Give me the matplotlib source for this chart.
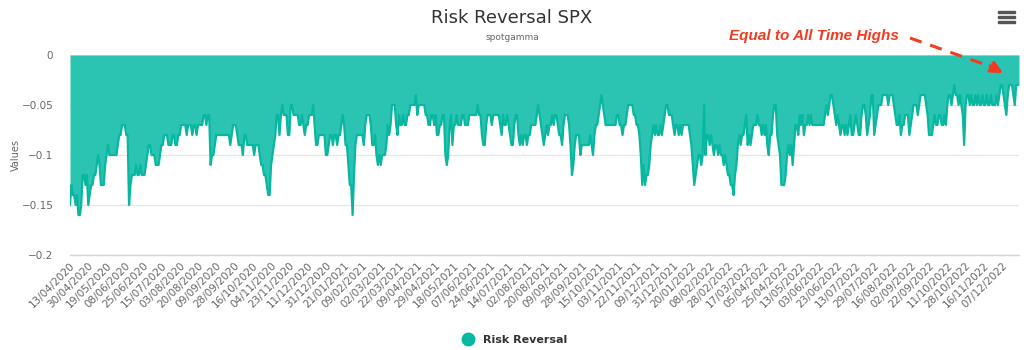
import numpy as np
import matplotlib
matplotlib.use("Agg")
import matplotlib.pyplot as plt
from matplotlib.patches import Rectangle

# Risk reversal, daily values in hundredths (all negative)
rr_2020 = [
    15, 13, 14, 14, 15, 14, 16, 16, 15, 12, 12, 13, 12, 15, 14, 13, 13, 12, 12, 11,
    10, 11, 13, 13, 13, 11, 10, 9, 10, 10, 10, 10, 10, 10, 9, 8, 8, 7, 7, 7,
    8, 8, 15, 13, 12, 12, 12, 11, 12, 12, 11, 12, 12, 12, 11, 10, 9, 9, 10, 10,
    10, 11, 11, 11, 10, 9, 9, 8, 8, 8, 9, 9, 9, 8, 8, 9, 9, 8, 8, 7,
    7, 7, 7, 8, 7, 7, 7, 8, 7, 7, 8, 7, 7, 7, 7, 6, 6, 7, 6, 6,
    11, 10, 10, 9, 8, 8, 8, 8, 8, 8, 8, 8, 8, 8, 9, 8, 7, 7, 7, 8,
    9, 9, 9, 10, 8, 8, 9, 9, 9, 9, 9, 10, 9, 9, 9, 10, 11, 11, 12, 12,
    13, 14, 14, 11, 10, 9, 8, 6, 6, 8, 6, 5, 6, 6, 6, 8, 8, 5, 5, 6,
    6, 6, 6, 7, 7, 6, 7, 8, 7, 7, 6, 6, 6, 5, 7, 9, 9, 8, 8, 8,
    8, 8, 10,
]
rr_2021 = [
    10, 9, 8, 8, 9, 8, 8, 9, 8, 8, 7, 6, 7, 9, 9, 11, 13,
    13, 16, 12, 9, 8, 8, 8, 8, 8, 9, 7, 6, 6, 6, 7, 9, 9, 8, 10, 11,
    10, 11, 10, 10, 10, 9, 7, 8, 7, 5, 5, 5, 7, 8, 6, 7, 7, 6, 7, 7,
    6, 6, 5, 5, 5, 5, 4, 6, 5, 5, 5, 5, 5, 6, 6, 7, 7, 6, 6, 7,
    6, 8, 8, 7, 7, 6, 6, 10, 11, 10, 7, 6, 9, 7, 7, 6, 7, 7, 7, 6,
    6, 7, 7, 7, 6, 6, 6, 6, 6, 6, 5, 6, 6, 8, 9, 9, 7, 6, 6, 6,
    7, 6, 6, 6, 6, 6, 7, 8, 6, 7, 7, 6, 7, 8, 9, 9, 7, 6, 6, 8,
    9, 8, 9, 8, 8, 9, 8, 8, 7, 7, 7, 7, 6, 5, 6, 7, 8, 9, 8, 7,
    8, 7, 7, 6, 7, 6, 6, 7, 8, 8, 9, 7, 6, 6, 6, 7, 9, 12, 11, 9,
    8, 8, 8, 10, 9, 9, 9, 9, 9, 9, 8, 9, 10, 8, 7, 7, 6, 5, 4, 5,
    6, 7, 7, 7, 7, 7, 7, 7, 7, 6, 6, 7, 7, 8, 7, 7, 6, 5, 5, 5,
    5, 6, 6, 7, 7, 8, 10, 13, 11, 13, 12, 12, 11, 9, 8, 7, 8, 7, 8, 8,
    7, 8, 7, 6, 5, 5, 6, 6, 6, 7,
]
rr_2022 = [
    8, 7, 7, 8, 7, 8, 7, 7, 7, 7, 7, 8, 9, 11, 13, 12, 11, 10, 10, 11,
    10, 5, 10, 8, 8, 9, 8, 9, 10, 9, 9, 10, 9, 10, 10, 11, 10, 11, 12, 12,
    13, 13, 14, 12, 11, 9, 8, 9, 8, 8, 7, 6, 9, 8, 9, 8, 7, 7, 7, 6,
    7, 7, 8, 7, 8, 7, 9, 10, 8, 8, 6, 5, 5, 8, 9, 10, 13, 13, 13, 12,
    10, 9, 10, 9, 11, 9, 7, 7, 8, 6, 7, 6, 8, 7, 7, 6, 7, 6, 7, 7,
    7, 7, 7, 7, 7, 7, 7, 6, 5, 6, 5, 4, 4, 5, 6, 7, 6, 7, 8, 7,
    7, 8, 7, 8, 7, 6, 8, 8, 7, 6, 7, 8, 8, 6, 5, 5, 6, 8, 7, 6,
    4, 4, 8, 7, 6, 5, 5, 5, 4, 4, 4, 4, 5, 4, 4, 4, 5, 6, 7, 7,
    6, 8, 7, 7, 6, 6, 6, 8, 7, 6, 5, 5, 5, 6, 5, 4, 4, 4, 4, 5,
    6, 8, 8, 8, 7, 6, 7, 7, 6, 6, 7, 7, 6, 7, 5, 4, 4, 5, 4, 3,
    4, 4, 5, 4, 5, 6, 9, 5, 4, 4, 5, 4, 5, 5, 4, 5, 4, 5, 5, 4,
    5, 5, 4, 5, 5, 4, 5, 5, 5, 4, 5, 4, 3, 3, 4, 5, 6, 4, 3, 3,
    3, 4, 5, 3, 3, 3,
]

# every 13th category is labelled on the axis
tick_labels = [
    "13/04/2020", "30/04/2020", "19/05/2020", "08/06/2020", "25/06/2020",
    "15/07/2020", "03/08/2020", "20/08/2020", "09/09/2020", "28/09/2020",
    "16/10/2020", "04/11/2020", "23/11/2020", "11/12/2020", "31/12/2020",
    "21/01/2021", "09/02/2021", "02/03/2021", "22/03/2021", "09/04/2021",
    "29/04/2021", "18/05/2021", "07/06/2021", "24/06/2021", "14/07/2021",
    "02/08/2021", "20/08/2021", "09/09/2021", "28/09/2021", "15/10/2021",
    "03/11/2021", "22/11/2021", "09/12/2021", "31/12/2021", "20/01/2022",
    "08/02/2022", "28/02/2022", "17/03/2022", "05/04/2022", "25/04/2022",
    "13/05/2022", "03/06/2022", "23/06/2022", "13/07/2022", "29/07/2022",
    "16/08/2022", "02/09/2022", "22/09/2022", "11/10/2022", "28/10/2022",
    "16/11/2022", "07/12/2022",
]
tick_step = 13

y_ticks = [0, -0.05, -0.1, -0.15, -0.2]
y_tick_labels = ["0", "\u22120.05", "\u22120.1", "\u22120.15", "\u22120.2"]

values = -np.array(rr_2020 + rr_2021 + rr_2022) / 100.0
x = np.arange(len(values))

fill_color = "#2bc4b3"
line_color = "#08b79f"
text_gray = "#666666"

fig = plt.figure(figsize=(10.24, 3.5), dpi=100)
ax = fig.add_axes([70 / 1024, 1 - 255 / 350, 949 / 1024, 200 / 350])

# area down from the zero threshold
ax.fill_between(x, values, 0, color=fill_color, linewidth=0, zorder=2)
ax.plot(x, values, color=line_color, linewidth=1.6, zorder=3)

ax.set_xlim(0, len(values) - 1)
ax.set_ylim(-0.2, 0)

# grid and axis lines
ax.set_yticks(y_ticks)
ax.set_yticklabels(y_tick_labels, color=text_gray, fontsize=7.5)
ax.yaxis.grid(True, color="#e6e6e6", linewidth=1, zorder=0)
ax.set_axisbelow(True)
for side in ["top", "right", "left"]:
    ax.spines[side].set_visible(False)
ax.spines["bottom"].set_color("#ccd6eb")
ax.spines["bottom"].set_linewidth(1)
ax.tick_params(axis="y", length=0, pad=12)
ax.tick_params(axis="x", length=0, pad=4)

ticks = np.arange(0, len(values), tick_step)[:len(tick_labels)]
ax.set_xticks(ticks)
ax.set_xticklabels(tick_labels, rotation=45, ha="right", rotation_mode="anchor",
                   color=text_gray, fontsize=7.5)

ax.set_ylabel("Values", color=text_gray, fontsize=7)
ax.yaxis.set_label_coords(-0.052, 0.5)

# title and subtitle
fig.text(0.5, 1 - 18 / 350, "Risk Reversal SPX", ha="center", va="center",
         fontsize=13, color="#333333")
fig.text(0.5, 1 - 38 / 350, "spotgamma", ha="center", va="center",
         fontsize=6.5, color=text_gray)

# legend
ax.plot([], [], "o", color=line_color, markersize=9, label="Risk Reversal")
leg = fig.legend(loc="center", bbox_to_anchor=(0.5, 1 - 340 / 350), frameon=False,
                 handletextpad=0.3, prop={"weight": "bold", "size": 8})
for t in leg.get_texts():
    t.set_color("#333333")

# menu icon
for dy in (12, 17, 22):
    fig.patches.append(Rectangle((998 / 1024, 1 - (dy + 1.2) / 350), 17 / 1024, 2.4 / 350,
                                 transform=fig.transFigure, color="#555555"))

# callout
red = "#f23b20"
fig.text(814 / 1024, 1 - 36 / 350, "Equal to All Time Highs", ha="center", va="center",
         fontsize=11, color=red, fontweight="bold", style="italic",
         family="Liberation Sans")
fig.add_artist(plt.Line2D([910 / 1024, 992 / 1024], [1 - 38 / 350, 1 - 67 / 350],
                          transform=fig.transFigure, color=red, linewidth=2.2,
                          linestyle=(0, (4, 3))))
ax.annotate("", xy=(1003 / 1024, 1 - 73 / 350), xytext=(990 / 1024, 1 - 66 / 350),
            xycoords="figure fraction", textcoords="figure fraction",
            arrowprops=dict(arrowstyle="-|>,head_length=0.7,head_width=0.35",
                            color=red, linewidth=2.2, shrinkA=0, shrinkB=0))

fig.savefig("out.png", dpi=100)
